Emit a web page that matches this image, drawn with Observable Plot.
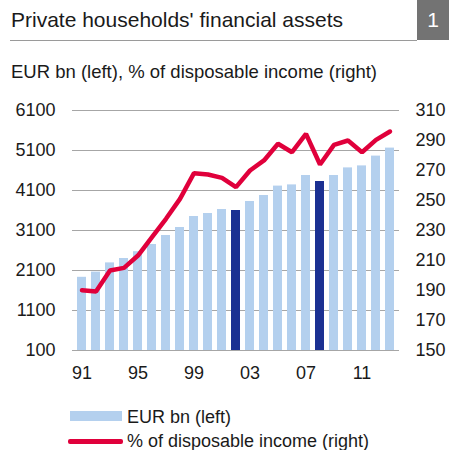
<!DOCTYPE html>
<html>
<head>
<meta charset="utf-8">
<script src="https://cdn.jsdelivr.net/npm/d3@7"></script>
<script src="https://cdn.jsdelivr.net/npm/@observablehq/plot@0.6"></script>
<style>
  html, body { margin: 0; padding: 0; background: #fff; }
  #wrap { position: relative; width: 449px; height: 450px; overflow: hidden;
          font-family: "Liberation Sans", Arial, sans-serif; color: #1a1a1a; }
  .abs { position: absolute; white-space: nowrap; }
  #title { left: 11px; top: 9px; font-size: 21px; line-height: 21px; }
  #rule { left: 10px; top: 40px; width: 407px; height: 1px; background: #9a9a9a; }
  #badge { left: 417px; top: 0; width: 32px; height: 40px; background: #737373; color: #fff;
           font-size: 21px; line-height: 40px; text-align: center; }
  #subtitle { left: 11px; top: 63px; font-size: 18.5px; line-height: 18.5px; }
  #chart { left: 0; top: 90px; }
  .lg-text { font-size: 18px; line-height: 18px; }
</style>
</head>
<body>
<div id="wrap">
  <div class="abs" id="title">Private households' financial assets</div>
  <div class="abs" id="rule"></div>
  <div class="abs" id="badge">1</div>
  <div class="abs" id="subtitle">EUR bn (left), % of disposable income (right)</div>
  <div class="abs" id="chart"></div>
  <div class="abs" style="left:70px;top:411px;width:52px;height:10px;background:#b4d0ee"></div>
  <div class="abs lg-text" style="left:127px;top:408px">EUR bn (left)</div>
  <div class="abs" style="left:68px;top:439px;width:55px;height:4.5px;border-radius:2px;background:#e0003b"></div>
  <div class="abs lg-text" style="left:127px;top:432px">% of disposable income (right)</div>
</div>
<script>
const years = [1991,1992,1993,1994,1995,1996,1997,1998,1999,2000,2001,2002,2003,2004,2005,2006,2007,2008,2009,2010,2011,2012,2013];
const eurBn = [1930,2060,2290,2400,2570,2750,2975,3175,3450,3525,3625,3600,3825,3975,4210,4240,4475,4325,4475,4665,4715,4960,5160];
const pctIncome = [190.2,189.3,203.3,205.1,213.3,225.6,237.8,251.1,268.2,267.3,265.1,258.9,270.0,276.7,287.8,282.2,294.4,274.0,287.1,290.0,282.2,290.4,296.0];
const highlightYears = [2002, 2008];
const leftTicks = [100,1100,2100,3100,4100,5100,6100];
const rightTicks = [150,170,190,210,230,250,270,290,310];
const xTickYears = [1991,1995,1999,2003,2007,2011];

const leftDomain = [100, 6100];
const rightDomain = [150, 310];
const toLeft = v => leftDomain[0] + (v - rightDomain[0]) * (leftDomain[1] - leftDomain[0]) / (rightDomain[1] - rightDomain[0]);
const toRight = v => rightDomain[0] + (v - leftDomain[0]) * (rightDomain[1] - rightDomain[0]) / (leftDomain[1] - leftDomain[0]);

const data = years.map((year, i) => ({year, eur: eurBn[i], pct: pctIncome[i], hi: highlightYears.includes(year)}));

const LIGHT = "#b4d0ee", DARK = "#1b3092", RED = "#e0003b";

const chart = Plot.plot({
  width: 449,
  height: 300,
  marginTop: 20,
  marginBottom: 40,
  marginLeft: 72,
  marginRight: 50,
  style: {fontFamily: "Liberation Sans, Arial, sans-serif", fontSize: "18px", color: "#1a1a1a", background: "transparent"},
  x: {type: "band", domain: years, paddingInner: 0.37, paddingOuter: 0.2},
  y: {domain: leftDomain},
  marks: [
    Plot.gridY(leftTicks, {stroke: "#a6a6a6", strokeOpacity: 1, strokeWidth: 1.2}),
    Plot.barY(data, {x: "year", y1: leftDomain[0], y2: "eur", fill: d => d.hi ? DARK : LIGHT}),
    Plot.lineY(data, {x: "year", y: d => toLeft(d.pct), stroke: RED, strokeWidth: 4.5, strokeLinejoin: "miter", strokeLinecap: "round"}),
    Plot.axisY(leftTicks, {anchor: "left", tickSize: 0, tickPadding: 17, fontSize: 18, label: null,
      tickFormat: d => String(d)}),
    Plot.axisY(rightTicks.map(toLeft), {anchor: "right", tickSize: 0, tickPadding: 16, fontSize: 18, label: null,
      tickFormat: d => String(Math.round(toRight(d)))}),
    Plot.axisX(xTickYears, {anchor: "bottom", tickSize: 0, tickPadding: 16, fontSize: 18, label: null,
      tickFormat: d => String(d).slice(2)})
  ]
});
document.getElementById("chart").appendChild(chart);
</script>
</body>
</html>
